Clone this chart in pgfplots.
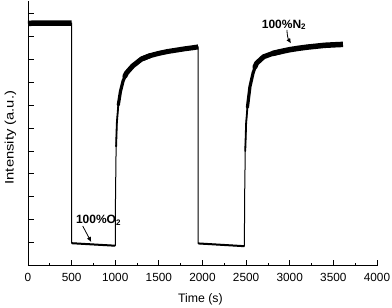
\documentclass[border=0pt]{standalone}
\usepackage{fontspec}
\setmainfont{Liberation Sans}
\usepackage{graphicx}
\usepackage{pgfplots}
\pgfplotsset{compat=1.18}
\usetikzlibrary{arrows.meta}
\begin{document}
\begin{tikzpicture}[x=1pt,y=1pt]
\useasboundingbox (0,0) rectangle (392,308);
\begin{axis}[
  at={(28pt,42.3pt)}, anchor=south west,
  scale only axis, width=349pt, height=264.7pt,
  xmin=0, xmax=4000, ymin=0, ymax=11.53,
  axis x line*=bottom, axis y line*=left,
  axis line style={line width=0.9pt, -},
  xtick={0,500,...,4000}, minor x tick num=1,
  ytick={1,2,...,11}, yticklabels={},
  tick align=inside,
  major tick length=6pt, minor tick length=3pt,
  tick style={line width=0.8pt, black},
  /pgf/number format/assume math mode=true,
  scaled x ticks=false,
  xticklabel style={/pgf/number format/1000 sep={}, font=\fontsize{11.8}{13}\selectfont, yshift=-4pt},
  xlabel={Time (s)}, ylabel={\scalebox{1.2}[1]{Intensity (a.u.)}},
  xlabel style={font=\fontsize{12.3}{14}\selectfont, at={(axis description cs:0.494,-0.1258)}, anchor=center},
  ylabel style={font=\fontsize{12.3}{14}\selectfont, at={(axis description cs:-0.0501,0.484)}, anchor=center},
  clip=false,
]
% thin trace
\addplot[black, line width=1pt, line join=round] coordinates {
(0,10.56) (500,10.57) (500,0.98) (1000,0.87) (1003,3.0) (1010,5.2) (1018,6.2) (1035,7.0) (1060,7.6) (1090,8.05) (1130,8.4) (1200,8.7) (1300,9.0) (1400,9.15) (1500,9.25) (1600,9.33) (1700,9.39) (1800,9.45) (1900,9.5) (1950,9.53)
(1950,0.97) (2480,0.85) (2483,3.0) (2490,5.0) (2500,6.2) (2515,6.9) (2544,7.8) (2580,8.4) (2620,8.82) (2700,9.1) (2800,9.24) (2900,9.33) (3000,9.41) (3100,9.47) (3200,9.52) (3300,9.56) (3400,9.6) (3500,9.62) (3610,9.64)};
% noisy bands
\addplot[black, line width=5.5pt] coordinates {(0,10.56) (500,10.57)};
\addplot[black, line width=2pt] coordinates {(500,0.98) (1000,0.87)};
\addplot[black, line width=2pt] coordinates {(1950,0.97) (2480,0.85)};
\addplot[black, line width=1.8pt, line join=round, line cap=round] coordinates {(1010,5.2) (1018,6.2) (1035,7.0) (1060,7.6)};
\addplot[black, line width=3.2pt, line join=round, line cap=round] coordinates {(1035,7.0) (1060,7.6) (1090,8.05) (1130,8.4)};
\addplot[black, line width=5pt, line join=round, line cap=round] coordinates {(1110,8.25) (1130,8.4) (1200,8.7) (1300,9.0) (1400,9.15)};
\addplot[black, line width=5pt, line join=round] coordinates {(1300,9.0) (1400,9.15) (1500,9.25) (1600,9.33) (1700,9.39) (1800,9.45) (1900,9.5) (1950,9.53)};
\addplot[black, line width=1.8pt, line join=round, line cap=round] coordinates {(2490,5.0) (2500,6.2) (2515,6.9) (2544,7.8)};
\addplot[black, line width=3.2pt, line join=round, line cap=round] coordinates {(2515,6.9) (2544,7.8) (2580,8.4) (2620,8.82)};
\addplot[black, line width=5pt, line join=round, line cap=round] coordinates {(2600,8.65) (2620,8.82) (2700,9.1) (2800,9.24) (2900,9.33)};
\addplot[black, line width=5.5pt, line join=round] coordinates {(2800,9.24) (2900,9.33) (3000,9.41) (3100,9.47) (3200,9.52) (3300,9.56) (3400,9.6) (3500,9.62) (3610,9.64)};
% annotations
\node[font=\fontsize{12}{14}\selectfont\bfseries, inner sep=0pt] at (axis cs:808,1.99) {100\%O\textsubscript{2}};
\draw[-{Latex[length=5pt,width=4.5pt]}, line width=0.8pt] (axis cs:627,1.73) -- (axis cs:725,1.03);
\node[font=\fontsize{12}{14}\selectfont\bfseries, inner sep=0pt] at (axis cs:2934,10.49) {100\%N\textsubscript{2}};
\draw[-{Latex[length=5pt,width=4.5pt]}, line width=0.8pt] (axis cs:2968,10.27) to[bend right=15] (axis cs:3014,9.68);
\end{axis}
\end{tikzpicture}
\end{document}
